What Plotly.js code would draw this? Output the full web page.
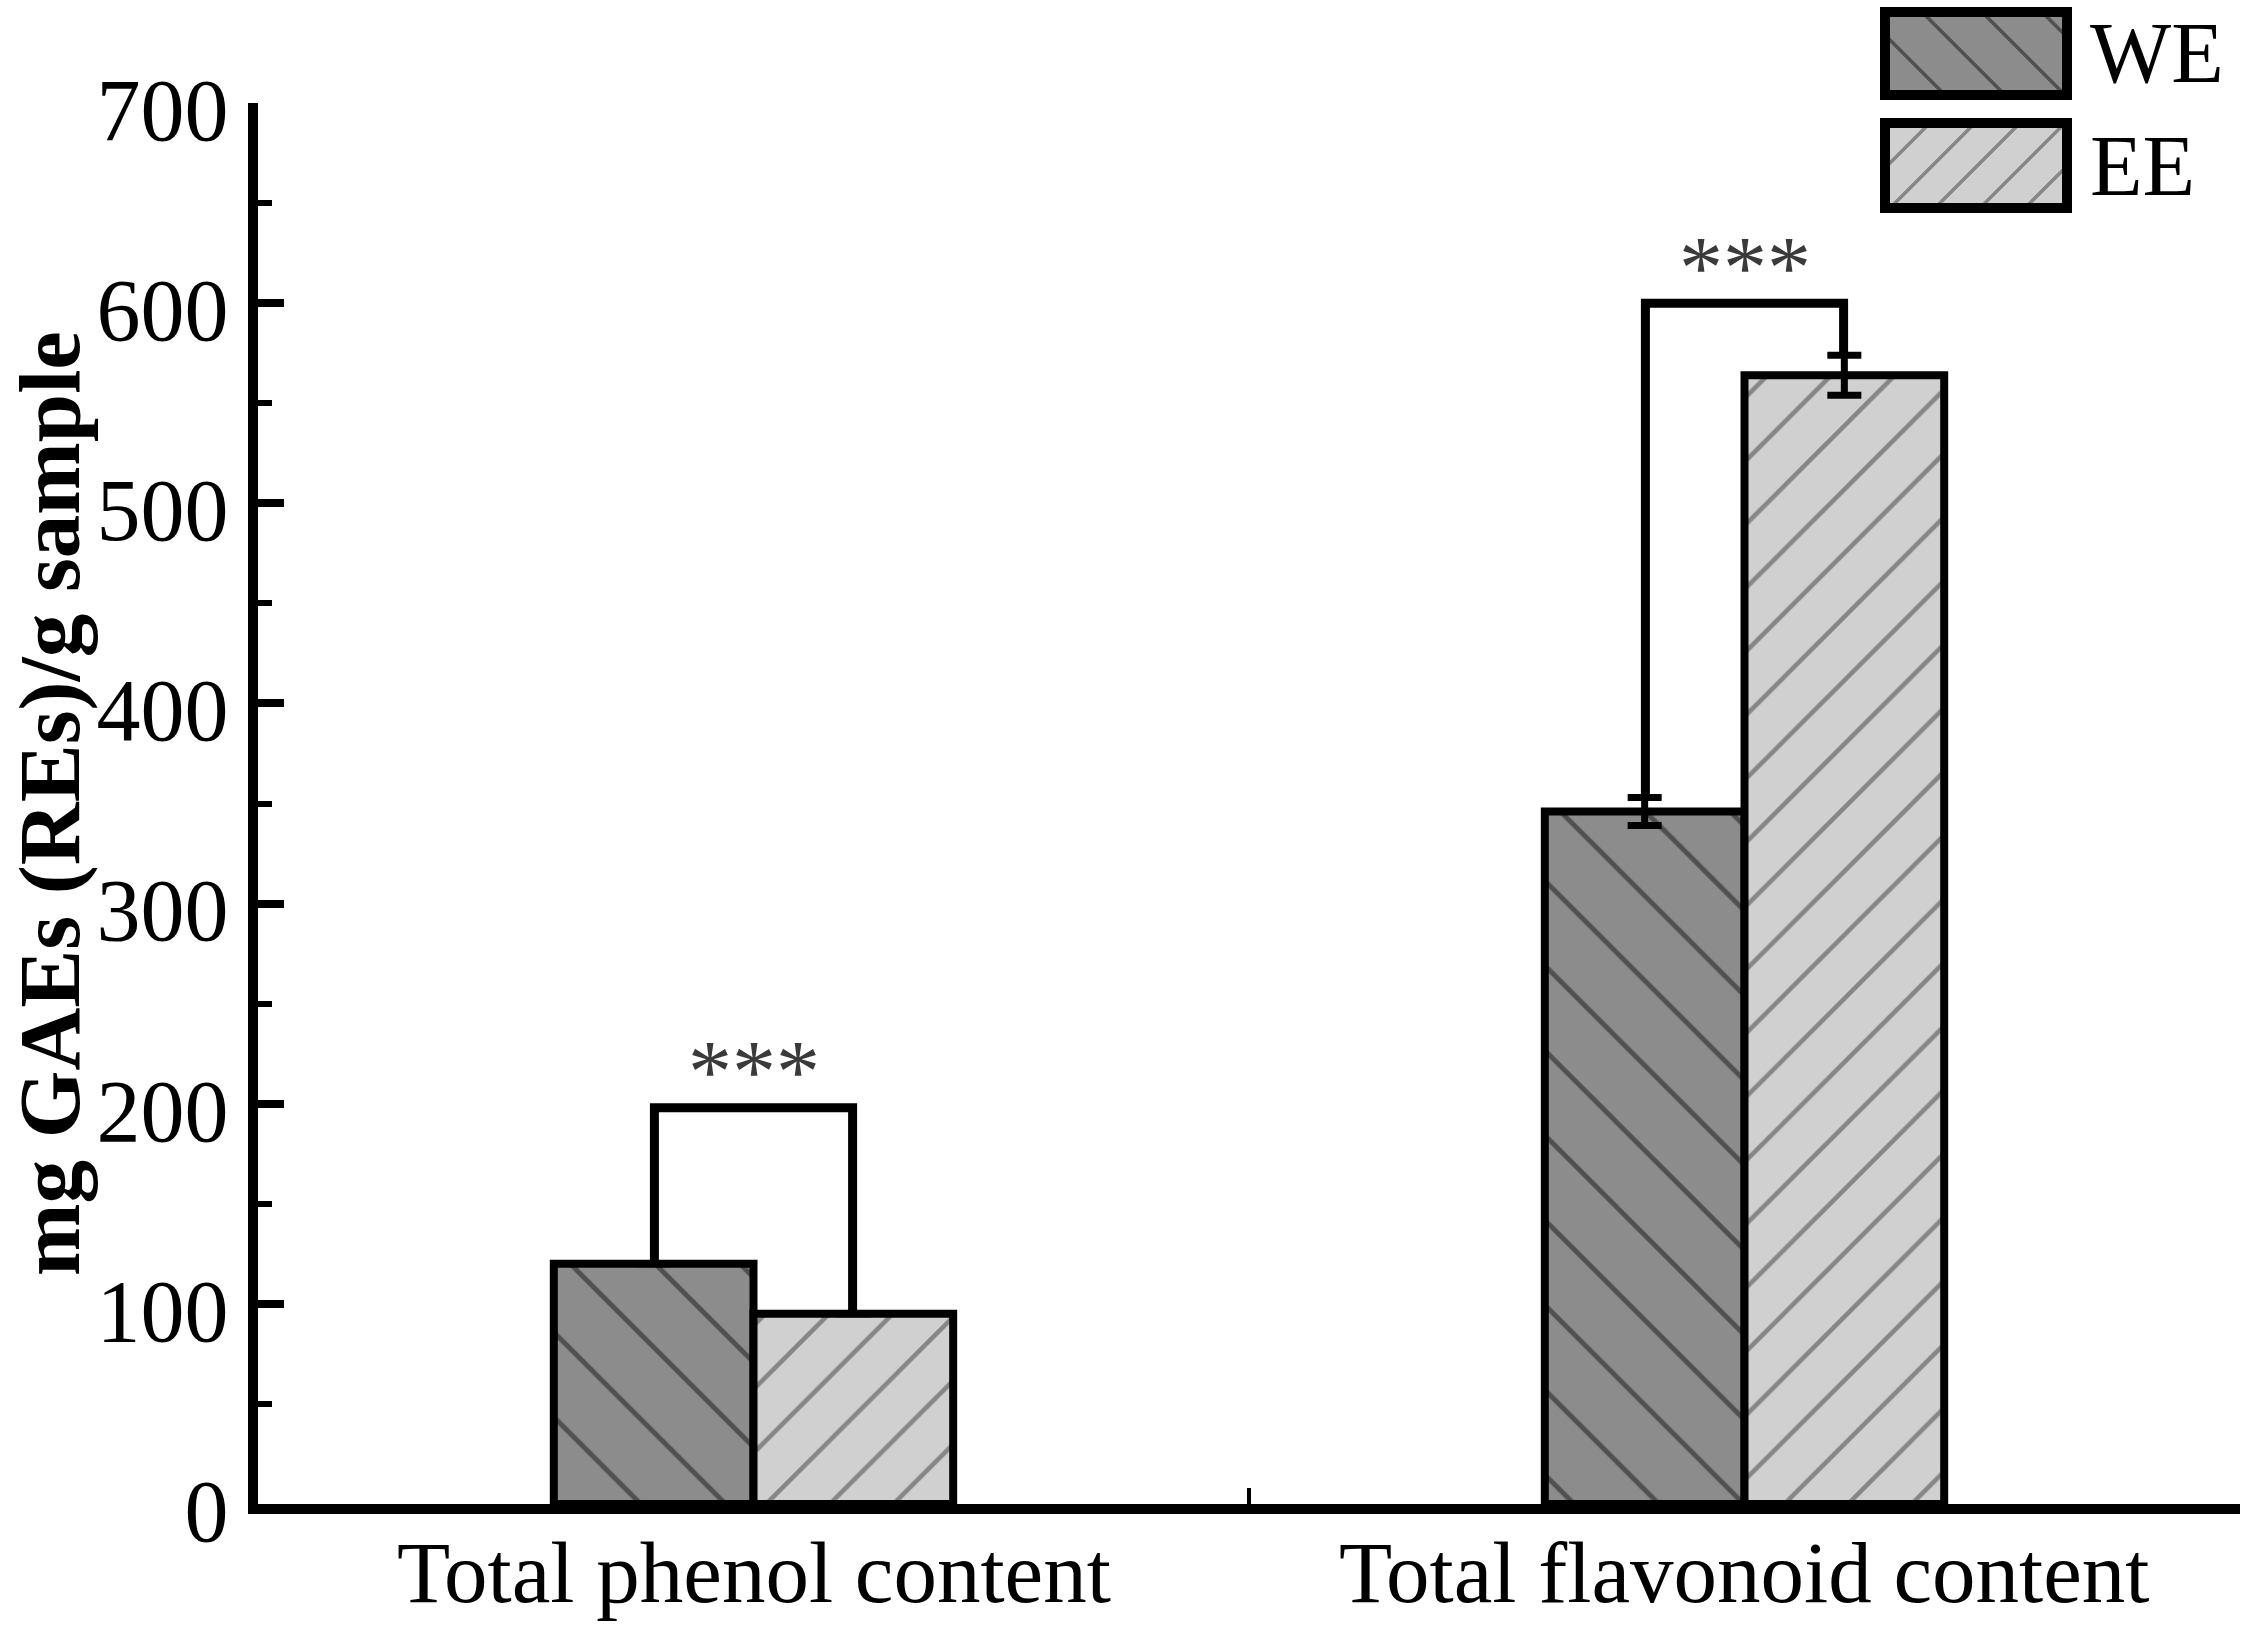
<!DOCTYPE html>
<html>
<head>
<meta charset="utf-8">
<script src="https://cdn.plot.ly/plotly-3.0.1.min.js"></script>
<style>html,body{margin:0;padding:0;background:#fff;}#chart{width:2249px;height:1626px;}</style>
</head>
<body>
<div id="chart"></div>
<script>
// ---- data ----
const categories = ["Total phenol content", "Total flavonoid content"];
const seriesNames = ["WE", "EE"];
const weValues = [120, 346];
const eeValues = [95, 564];
const weErr = [0, 7];
const eeErr = [0, 10];
const bracketTops = [198, 600];
const sigLabels = ["***", "***"];
const yTickVals = [0, 100, 200, 300, 400, 500, 600, 700];
const yTitle = "mg GAEs (REs)/g sample";

// ---- geometry ----
const W = 2249, H = 1626;
const L = 258, R = 2240, T = 103, B = 1504;
const FONT = "Liberation Serif, Times New Roman, serif";
const px = x => (x - L) / (R - L);
const py = y => (B - y) / (B - T);

const barOutline = {color: "#000", width: 8};
const traces = [
  {
    type: "bar", name: seriesNames[0], x: categories, y: weValues,
    marker: {color: "#8c8c8c", line: barOutline,
      pattern: {shape: "\\", bgcolor: "#8c8c8c", fgcolor: "#505050", size: 60, solidity: 0.08}},
    error_y: {type: "data", array: weErr, visible: true, color: "#000", thickness: 7, width: 17},
    showlegend: false
  },
  {
    type: "bar", name: seriesNames[1], x: categories, y: eeValues,
    marker: {color: "#d0d0d0", line: barOutline,
      pattern: {shape: "/", bgcolor: "#d0d0d0", fgcolor: "#868686", size: 45, solidity: 0.1}},
    error_y: {type: "data", array: eeErr, visible: true, color: "#000", thickness: 7, width: 17},
    showlegend: false
  }
];

const shapes = [];
const annotations = [];
const off = 0.1;
categories.forEach((c, i) => {
  const leftBottom = weValues[i] + weErr[i];
  const rightBottom = eeValues[i] + eeErr[i];
  shapes.push({
    type: "path", xref: "x", yref: "y",
    path: `M ${i - off},${leftBottom} L ${i - off},${bracketTops[i]} L ${i + off},${bracketTops[i]} L ${i + off},${rightBottom}`,
    line: {color: "#000", width: 9}
  });
  annotations.push({
    xref: "x", yref: "y", x: i, y: bracketTops[i] + 18, text: sigLabels[i],
    showarrow: false, yanchor: "middle",
    font: {family: FONT, size: 88, color: "#3a3a3a"}
  });
  // category label under the axis
  annotations.push({
    xref: "x", yref: "paper", x: c, y: py(1572), text: c,
    showarrow: false, xanchor: "center", yanchor: "middle",
    font: {family: FONT, size: 87, color: "#000"}
  });
});

// ---- custom legend (boxes with hatching) ----
function hatch(x0, y0, x1, y1, dir, spacing) {
  const h = y1 - y0;
  let d = "";
  for (let c = x0 - h; c < x1; c += spacing) {
    const tmin = Math.max(x0 - c, 0), tmax = Math.min(x1 - c, h);
    if (tmax <= tmin) continue;
    let ax, ay, bx, by;
    if (dir === "\\") { ax = c + tmin; ay = y0 + tmin; bx = c + tmax; by = y0 + tmax; }
    else { ax = c + tmin; ay = y1 - tmin; bx = c + tmax; by = y1 - tmax; }
    d += `M ${px(ax)},${py(ay)} L ${px(bx)},${py(by)} `;
  }
  return d;
}
const legendItems = [
  {name: seriesNames[0], fill: "#8c8c8c", lc: "#505050", dir: "\\", sp: 60, y0: 12, y1: 95},
  {name: seriesNames[1], fill: "#d0d0d0", lc: "#868686", dir: "/", sp: 45, y0: 123, y1: 208}
];
legendItems.forEach(it => {
  const x0 = 1885, x1 = 2067;
  shapes.push({type: "rect", xref: "paper", yref: "paper", x0: px(x0), x1: px(x1), y0: py(it.y1), y1: py(it.y0),
    fillcolor: it.fill, line: {width: 0}, layer: "above"});
  shapes.push({type: "path", xref: "paper", yref: "paper", path: hatch(x0, it.y0, x1, it.y1, it.dir, it.sp),
    line: {color: it.lc, width: 3.5}, layer: "above"});
  shapes.push({type: "rect", xref: "paper", yref: "paper", x0: px(x0), x1: px(x1), y0: py(it.y1), y1: py(it.y0),
    fillcolor: "rgba(0,0,0,0)", line: {color: "#000", width: 10}, layer: "above"});
  annotations.push({xref: "paper", yref: "paper", x: px(2088), y: py((it.y0 + it.y1) / 2),
    xanchor: "left", yanchor: "middle", text: it.name, showarrow: false,
    font: {family: FONT, size: 86, color: "#000"}});
});

// y-axis title as rotated annotation
annotations.push({xref: "paper", yref: "paper", x: px(0), y: 0.5, xanchor: "left", yanchor: "middle",
  textangle: -90, showarrow: false, borderpad: 0, text: "<b>" + yTitle + "</b>",
  font: {family: FONT, size: 87, color: "#000"}});

const layout = {
  width: W, height: H,
  margin: {l: L, r: W - R, t: T, b: H - B, pad: 0},
  paper_bgcolor: "#fff", plot_bgcolor: "#fff",
  barmode: "group", bargap: 0.597, bargroupgap: 0,
  showlegend: false,
  font: {family: FONT, color: "#000"},
  xaxis: {
    type: "category", range: [-0.5, 1.5], showline: true, linecolor: "#000", linewidth: 10,
    ticks: "inside", tickson: "boundaries", ticklen: 16, tickwidth: 4, tickcolor: "#000",
    showgrid: false, zeroline: false, showticklabels: false
  },
  yaxis: {
    range: [0, 700], tickvals: yTickVals, showline: true, linecolor: "#000", linewidth: 10,
    ticks: "inside", ticklen: 26, tickwidth: 8, tickcolor: "#000",
    minor: {dtick: 50, ticks: "inside", ticklen: 14, tickwidth: 6, tickcolor: "#000", showgrid: false},
    showgrid: false, zeroline: false, ticklabelstandoff: 2, ticklabelshift: 6,
    tickfont: {family: FONT, size: 88, color: "#000"}
  },
  shapes: shapes,
  annotations: annotations
};

Plotly.newPlot("chart", traces, layout, {displayModeBar: false, staticPlot: true});
</script>
</body>
</html>
